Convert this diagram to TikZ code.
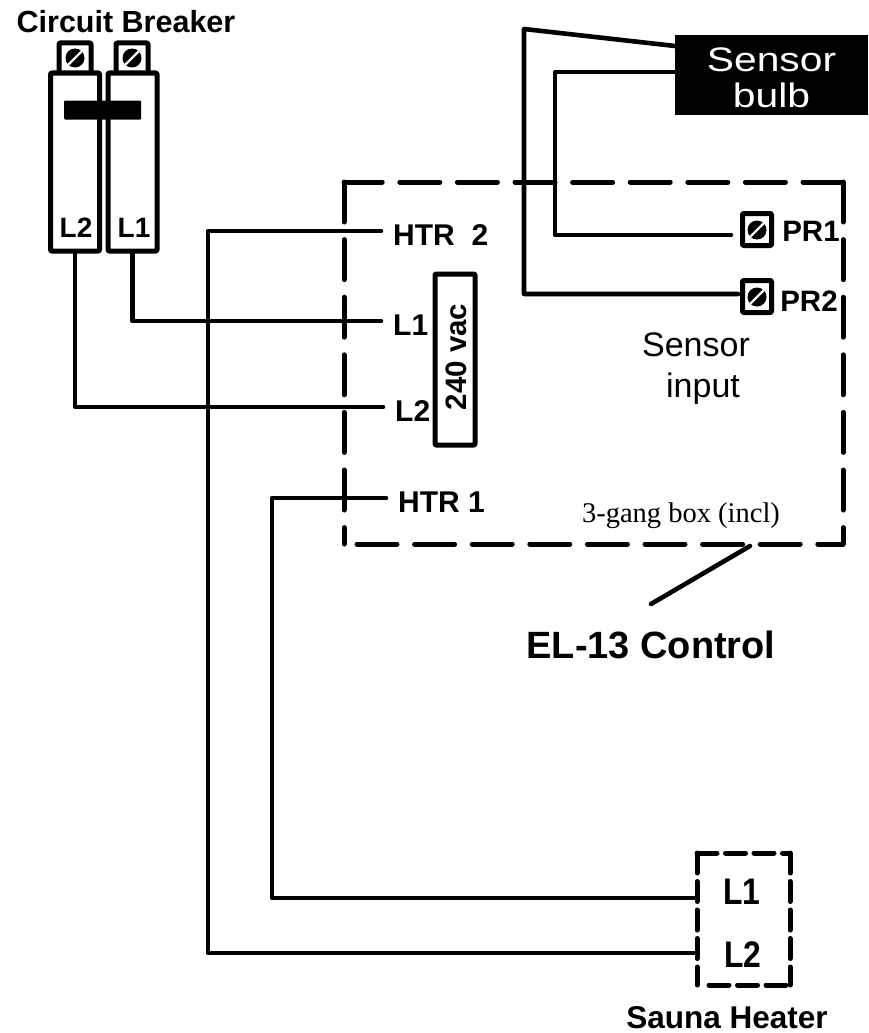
\documentclass[tikz,border=0pt]{standalone}
\usepackage{fontspec}
\setmainfont{Liberation Sans}
\newfontfamily\boxfont{Liberation Serif}
\newfontfamily\widefont[FakeStretch=1.2]{Liberation Sans}
\newfontfamily\tallfont[FakeStretch=0.86]{Liberation Sans}
\newcommand{\fsize}[1]{\fontsize{#1}{#1}\selectfont}
\begin{document}
\begin{tikzpicture}
	[x=1pt, y=-1pt, line join=round,
	wire/.style={line width=4.6pt, line cap=round},
	frame/.style={draw, line width=5pt, rounded corners=1pt, inner sep=0pt},
	biglabel/.style={inner sep=0pt, font=\bfseries\fsize{#1}},
	wirelabel/.style={anchor=west, inner ysep=0pt, inner xsep=12pt, text height=28pt, text depth=0pt, font=\bfseries\fsize{30}},
	screw/.style={circle, fill=black, minimum size=19pt, inner sep=0pt,
		path picture={\draw[white, line width=2.4pt] (path picture bounding box.south west) -- (path picture bounding box.north east);}},
	boxdash/.style={line width=5pt, line cap=round, dash pattern=on 40pt off 17.6pt},
	heaterdash/.style={line width=5pt, line cap=round, dash pattern=on 20pt off 8.5pt}]
	\useasboundingbox (0,0) rectangle (869,1033);
	% circuit breaker
	\node[biglabel=30.5] (cbtitle) at (126,22) {Circuit Breaker};
	\node[frame, minimum width=32pt, minimum height=32pt] (termb) at (75,59) {};
	\node[frame, minimum width=32pt, minimum height=32pt] (terma) at (132,59) {};
	\node[screw] (screwb) at (75,58) {};
	\node[screw] (screwa) at (132,58) {};
	\node[frame, fill=white, minimum width=49pt, minimum height=178pt] (brkb) at (75,162) {};
	\node[frame, fill=white, minimum width=49pt, minimum height=178pt] (brka) at (132.5,162) {};
	\node[fill=black, rounded corners=1pt, minimum width=77pt, minimum height=19pt, inner sep=0pt] (handle) at (102.5,110) {};
	\node[biglabel=28] (brkbtxt) at (76,228) {L2};
	\node[biglabel=28] (brkatxt) at (134,228) {L1};
	% 3-gang box
	\coordinate (boxa) at (344,182);
	\coordinate (boxb) at (843,182);
	\coordinate (boxc) at (843,544);
	\coordinate (boxd) at (344,544);
	\coordinate (boxe) at (357,544);
	\draw[boxdash] (boxb) -- (boxa);
	\draw[boxdash] (boxa) -- (boxd);
	\draw[boxdash] (boxb) -- (boxc);
	\draw[boxdash] (boxe) -- (boxc);
	\node[wirelabel] (htrtwo) at (381,231) {HTR\ \ 2};
	\node[wirelabel] (lone) at (381,321) {L1};
	\node[wirelabel] (ltwo) at (383,407) {L2};
	\node[wirelabel] (htrone) at (386,498) {HTR 1};
	\node[frame, minimum width=40pt, minimum height=171pt] (vac) at (455,359.5) {};
	\node[biglabel=29.5, rotate=90] (vactxt) at (456,357) {240 vac};
	\node[inner sep=0pt, font=\boxfont\fsize{28.5}] (gang) at (681,516) {3-gang box (incl)};
	\node[biglabel=38] (eltxt) at (651,645) {EL-13 Control};
	\coordinate (leadera) at (750,546);
	\coordinate (leaderb) at (651,604);
	\draw[wire] (leadera) -- (leaderb);
	% sensor
	\node[fill=black, text=white, minimum width=193pt, minimum height=80pt, inner sep=0pt, align=center, font=\widefont\fsize{34}] (bulb) at (771.5,75) {\rule{0pt}{30pt}Sensor\\[2pt]bulb};
	\node[frame, minimum width=29pt, minimum height=32pt] (prone) at (757,229.5) {};
	\node[frame, minimum width=29pt, minimum height=32pt] (prtwo) at (757,296.5) {};
	\node[screw] (screwc) at (757,230) {};
	\node[screw] (screwd) at (757,297) {};
	\node[biglabel=29.5] (pronetxt) at (811,231) {PR1};
	\node[biglabel=29.5] (prtwotxt) at (809,301) {PR2};
	\node[inner sep=0pt, font=\fsize{34}] (sensortxt) at (696,345) {Sensor};
	\node[inner sep=0pt, font=\fsize{34}] (inputtxt) at (703,389) {input};
	% heater
	\coordinate (hta) at (697,853);
	\coordinate (htb) at (790,853);
	\coordinate (htc) at (790,985);
	\coordinate (htd) at (697,985);
	\coordinate (hte) at (709,985);
	\draw[heaterdash] (hta) -- (htb);
	\draw[heaterdash] (hta) -- (htd);
	\draw[heaterdash] (htb) -- (htc);
	\draw[heaterdash] (hte) -- (htc);
	\node[inner sep=0pt, font=\tallfont\bfseries\fsize{37}] (htltxt) at (742,892) {L1};
	\node[inner sep=0pt, font=\tallfont\bfseries\fsize{37}] (httxt) at (743,955) {L2};
	\node[biglabel=31.5] (heatertxt) at (727,1018) {Sauna Heater};
	% wires
	\coordinate (wa) at (524,29);
	\coordinate (wb) at (675,46);
	\coordinate (wc) at (524,294);
	\coordinate (wd) at (738,294);
	\coordinate (we) at (675,72);
	\coordinate (wf) at (555,72);
	\coordinate (wg) at (555,235);
	\coordinate (wh) at (731,235);
	\coordinate (wi) at (208,231);
	\coordinate (wj) at (208,953);
	\coordinate (wk) at (695,953);
	\coordinate (wl) at (272,498);
	\coordinate (wm) at (272,898);
	\coordinate (wn) at (695,898);
	\draw[wire] (wb) -- (wa) -- (wc) -- (wd);
	\draw[wire] (we) -- (wf) -- (wg) -- (wh);
	\draw[wire] (brka.south) |- (lone.west);
	\draw[wire] (brkb.south) |- (ltwo.west);
	\draw[wire] (htrtwo.west) -- (wi) -- (wj) -- (wk);
	\draw[wire] (htrone.west) -- (wl) -- (wm) -- (wn);
\end{tikzpicture}
\end{document}
